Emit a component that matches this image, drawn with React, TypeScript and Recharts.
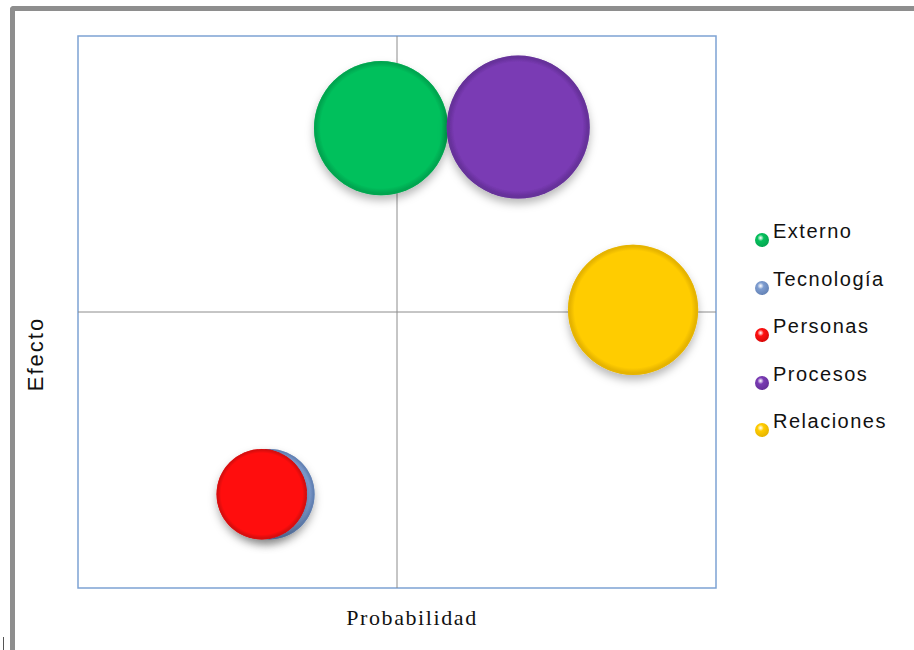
import {
  ScatterChart,
  Scatter,
  XAxis,
  YAxis,
  ZAxis,
  ReferenceLine,
  ReferenceArea,
} from "recharts";

// riesgos: probabilidad (x), efecto (y), tamaño de la burbuja (z)
const CATEGORIAS = ["Externo", "Tecnología", "Personas", "Procesos", "Relaciones"];
const PROBABILIDAD = [4.75, 3.0, 2.88, 6.9, 8.7];
const EFECTO = [8.33, 1.7, 1.7, 8.35, 5.04];
const TAMANO = [8.8, 4.0, 4.0, 10, 8.3];
const COLORES = ["#05c05c", "#7e9dd0", "#ff1010", "#7a3bb4", "#ffcc00"];
const BORDES = ["#04a650", "#6483b6", "#d80808", "#66309a", "#e6b400"];

const CENTRO = 5;
const RADIO_MAX = 71.5;

const series = CATEGORIAS.map((nombre, i) => ({
  nombre,
  color: COLORES[i],
  borde: BORDES[i],
  datos: [{ x: PROBABILIDAD[i], y: EFECTO[i], z: TAMANO[i] }],
}));

const Burbuja = (props: any) => {
  const { cx, cy, width, idx } = props;
  const r = width / 2;
  return (
    <g filter="url(#sombra)">
      <circle cx={cx} cy={cy} r={r} fill={`url(#bisel${idx})`} />
      <circle cx={cx} cy={cy} r={r - 0.5} fill="none" stroke={BORDES[idx]} strokeOpacity={0.6} />
    </g>
  );
};

const EtiquetaX = (props: any) => {
  const { x, y, width } = props.viewBox;
  return (
    <text
      x={x + width / 2 + 15}
      y={y + 37}
      textAnchor="middle"
      fontFamily="'Liberation Serif', 'Times New Roman', serif"
      fontSize={22}
      letterSpacing={1.6}
      fill="#111"
    >
      Probabilidad
    </text>
  );
};

const EtiquetaY = (props: any) => {
  const { y, height } = props.viewBox;
  const cx = 43;
  const cy = y + height / 2 + 42;
  return (
    <text
      x={cx}
      y={cy}
      transform={`rotate(-90 ${cx} ${cy})`}
      textAnchor="middle"
      fontFamily="'Liberation Sans', Arial, sans-serif"
      fontSize={22}
      letterSpacing={2}
      fill="#111"
    >
      Efecto
    </text>
  );
};

const Leyenda = () => (
  <div
    style={{
      position: "absolute",
      left: 752,
      top: 219,
      width: 160,
      fontFamily: "'Liberation Sans', Arial, sans-serif",
    }}
  >
    {series.map((s, i) => (
      <div key={s.nombre} style={{ height: 47.5, display: "flex", alignItems: "flex-start" }}>
        <svg width={22} height={30} style={{ flex: "none" }}>
          <defs>
            <radialGradient id={`esfera${i}`} cx="40%" cy="35%" r="65%">
              <stop offset="0%" stopColor="#ffffff" stopOpacity={0.85} />
              <stop offset="35%" stopColor={s.color} />
              <stop offset="100%" stopColor={s.borde} />
            </radialGradient>
          </defs>
          <circle cx={10} cy={21} r={7} fill={`url(#esfera${i})`} />
        </svg>
        <span style={{ fontSize: 20, letterSpacing: 1.5, color: "#111", lineHeight: "24px", marginLeft: -1 }}>
          {s.nombre}
        </span>
      </div>
    ))}
  </div>
);

export default function App() {
  return (
    <div style={{ position: "absolute", left: 0, top: 0, width: 914, height: 650, background: "#fff", overflow: "hidden" }}>
      <div
        style={{
          position: "absolute",
          left: 10,
          top: 6,
          width: 910,
          height: 650,
          borderTop: "5px solid #8e8e8e",
          borderLeft: "5px solid #8e8e8e",
          borderTopLeftRadius: 4,
        }}
      />
      <div style={{ position: "absolute", left: 3, top: 637, width: 1, height: 13, background: "#555" }} />
      <div style={{ position: "absolute", left: 0, top: 0 }}>
        <ScatterChart width={914} height={650} margin={{ top: 36, right: 198, bottom: 22, left: 20 }}>
          <defs>
            <filter id="sombra" x="-30%" y="-30%" width="160%" height="170%">
              <feDropShadow dx={0} dy={5} stdDeviation={4} floodColor="#000" floodOpacity={0.28} />
            </filter>
            {series.map((s, i) => (
              <radialGradient key={s.nombre} id={`bisel${i}`} cx="50%" cy="50%" r="50%" fx="50%" fy="46%">
                <stop offset="0%" stopColor={s.color} />
                <stop offset="90%" stopColor={s.color} />
                <stop offset="97%" stopColor={s.borde} />
                <stop offset="100%" stopColor={s.borde} />
              </radialGradient>
            ))}
          </defs>
          <XAxis
            type="number"
            dataKey="x"
            domain={[0, 10]}
            tick={false}
            tickLine={false}
            axisLine={false}
            height={40}
            label={<EtiquetaX />}
          />
          <YAxis
            type="number"
            dataKey="y"
            domain={[0, 10]}
            tick={false}
            tickLine={false}
            axisLine={false}
            width={58}
            label={<EtiquetaY />}
          />
          <ZAxis type="number" dataKey="z" domain={[0, 10]} range={[0, Math.PI * RADIO_MAX * RADIO_MAX]} />
          <ReferenceLine x={CENTRO} stroke="#8c8c8c" strokeWidth={1} />
          <ReferenceLine y={CENTRO} stroke="#8c8c8c" strokeWidth={1} />
          <ReferenceArea x1={0} x2={10} y1={0} y2={10} fill="none" stroke="#7ea3d4" strokeWidth={1.5} />
          {series.map((s, i) => (
            <Scatter
              key={s.nombre}
              name={s.nombre}
              data={s.datos}
              fill={s.color}
              isAnimationActive={false}
              shape={(p: any) => <Burbuja {...p} idx={i} />}
            />
          ))}
        </ScatterChart>
      </div>
      <Leyenda />
    </div>
  );
}
